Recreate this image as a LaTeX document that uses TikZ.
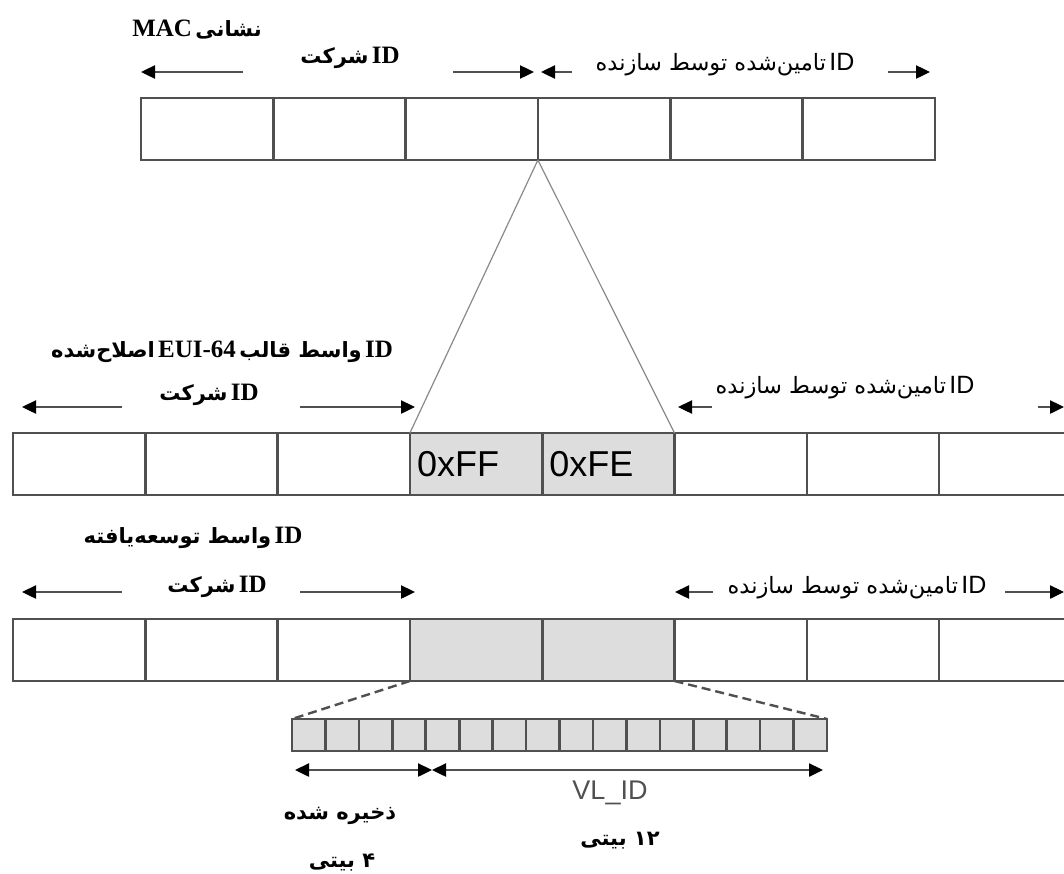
\documentclass[tikz,border=0pt]{standalone}
\usepackage{fontspec}
\usetikzlibrary{arrows.meta}
\TeXXeTstate=1
\newfontfamily\arabicfont[Script=Arabic]{DejaVu Sans}
\newfontfamily\serifL{Liberation Serif}
\newfontfamily\sansL{Liberation Sans}
\definecolor{cellgray}{HTML}{DDDDDD}
\definecolor{linegray}{HTML}{505050}
\definecolor{tgray}{HTML}{8A8A8A}
\newcommand\faB[1]{{\arabicfont\bfseries\fontsize{21}{24}\selectfont #1}}
\newcommand\enB[1]{{\serifL\bfseries\fontsize{25}{28}\selectfont #1}}
\newcommand\faS[1]{{\arabicfont\fontsize{22.5}{26}\selectfont #1}}
\newcommand\enS[1]{{\sansL\fontsize{25}{28}\selectfont #1}}
\begin{document}
\begin{tikzpicture}[x=1pt,y=-1pt,
  cell/.style={draw=linegray, line width=2.6pt, fill=white, minimum width=132.3pt,
    minimum height=62pt, inner sep=0pt, outer sep=0pt, anchor=north west},
  gcell/.style={cell, fill=cellgray, text width=118pt, align=left,
    font=\sansL\fontsize{36}{38}\selectfont},
  bitcell/.style={draw=linegray, line width=2.6pt, fill=cellgray, minimum width=33.44pt,
    minimum height=32pt, inner sep=0pt, outer sep=0pt, anchor=north west},
  arr/.style={draw=linegray, line width=2.4pt, -{Triangle[length=14pt,width=13pt,black]}},
  dblarr/.style={draw=linegray, line width=2.4pt,
    {Triangle[length=14pt,width=13pt,black]}-{Triangle[length=14pt,width=13pt,black]}},
  zoomline/.style={draw=tgray, line width=1.2pt},
  dashline/.style={draw=linegray, line width=2.4pt, dash pattern=on 9pt off 5pt},
  lab/.style={inner sep=0pt}]
\useasboundingbox (0,0) rectangle (1064,873);
\fill[white] (0,0) rectangle (1064,873);
\clip (0,0) rectangle (1064,873);

% ---------- top row: MAC address ----------
\foreach \i in {1,...,6} \node[cell] (t\i) at ({141+(\i-1)*132.3},98) {};

\coordinate (ta1s) at (243,72); \coordinate (ta1e) at (141,72);
\coordinate (ta2s) at (453,72); \coordinate (ta2e) at (534,72);
\coordinate (ta3s) at (572,72); \coordinate (ta3e) at (541,72);
\coordinate (ta4s) at (888,72); \coordinate (ta4e) at (930,72);
\draw[arr] (ta1s) -- (ta1e);
\draw[arr] (ta2s) -- (ta2e);
\draw[arr] (ta3s) -- (ta3e);
\draw[arr] (ta4s) -- (ta4e);

\node[lab] (lmac) at (197,30) {\beginR\faB{نشانی} \enB{MAC}\endR};
\node[lab] (lcomp1) at (350,58) {\beginR\enB{ID} \faB{شرکت}\endR};
\node[lab] (lman1) at (725,65) {\beginR\enS{ID} \faS{تامین‌شده توسط سازنده}\endR};

% ---------- middle row: modified EUI-64 ----------
\foreach \i in {1,2,3,6,7,8} \node[cell] (m\i) at ({13+(\i-1)*132.3},433) {};
\node[gcell] (m4) at ({13+3*132.3},433) {0xFF};
\node[gcell] (m5) at ({13+4*132.3},433) {0xFE};

\draw[zoomline] (t4.south west) -- (m4.north west);
\draw[zoomline] (t4.south west) -- (m5.north east);

\coordinate (ma1s) at (122,407); \coordinate (ma1e) at (22,407);
\coordinate (ma2s) at (300,407); \coordinate (ma2e) at (415,407);
\coordinate (ma3s) at (712,407); \coordinate (ma3e) at (678,407);
\coordinate (ma4s) at (1038,407); \coordinate (ma4e) at (1064,407);
\draw[arr] (ma1s) -- (ma1e);
\draw[arr] (ma2s) -- (ma2e);
\draw[arr] (ma3s) -- (ma3e);
\draw[arr] (ma4s) -- (ma4e);

\node[lab] (leui) at (222,352) {\beginR\enB{ID} \faB{واسط قالب} \beginL\enB{EUI-64}\endL\ \faB{اصلاح‌شده}\endR};
\node[lab] (lcomp2) at (209,395) {\beginR\enB{ID} \faB{شرکت}\endR};
\node[lab] (lman2) at (845,388) {\beginR\enS{ID} \faS{تامین‌شده توسط سازنده}\endR};

% ---------- bottom row: extended interface ID ----------
\foreach \i in {1,2,3,6,7,8} \node[cell] (b\i) at ({13+(\i-1)*132.3},619) {};
\node[cell, fill=cellgray] (b4) at ({13+3*132.3},619) {};
\node[cell, fill=cellgray] (b5) at ({13+4*132.3},619) {};

\coordinate (ba1s) at (122,592); \coordinate (ba1e) at (22,592);
\coordinate (ba2s) at (300,592); \coordinate (ba2e) at (415,592);
\coordinate (ba3s) at (713,592); \coordinate (ba3e) at (675,592);
\coordinate (ba4s) at (1005,592); \coordinate (ba4e) at (1064,592);
\draw[arr] (ba1s) -- (ba1e);
\draw[arr] (ba2s) -- (ba2e);
\draw[arr] (ba3s) -- (ba3e);
\draw[arr] (ba4s) -- (ba4e);

\node[lab] (lext) at (193,538) {\beginR\enB{ID} \faB{واسط توسعه‌یافته}\endR};
\node[lab] (lcomp3) at (217,587) {\beginR\enB{ID} \faB{شرکت}\endR};
\node[lab] (lman3) at (857,588) {\beginR\enS{ID} \faS{تامین‌شده توسط سازنده}\endR};

% ---------- 16-bit field ----------
\foreach \i in {1,...,16} \node[bitcell] (bit\i) at ({292+(\i-1)*33.44},719) {};
\draw[dashline] (b4.south west) -- (bit1.north west);
\draw[dashline] (b5.south east) -- (bit16.north east);

\coordinate (bl) at (295,770);
\coordinate (bm) at (432,770);
\coordinate (br) at (823,770);
\draw[dblarr] (bl) -- (bm);
\draw[dblarr] (bm) -- (br);

\node[lab, text=linegray, font=\sansL\fontsize{27}{30}\selectfont] (lvl) at (610,793) {VL\_ID};
\node[lab] (lres) at (340,816) {\beginR\faB{ذخیره شده}\endR};
\node[lab] (l4) at (342,862) {\beginR\faB{۴ بیتی}\endR};
\node[lab] (l12) at (620,841) {\beginR\faB{۱۲ بیتی}\endR};
\end{tikzpicture}
\end{document}
